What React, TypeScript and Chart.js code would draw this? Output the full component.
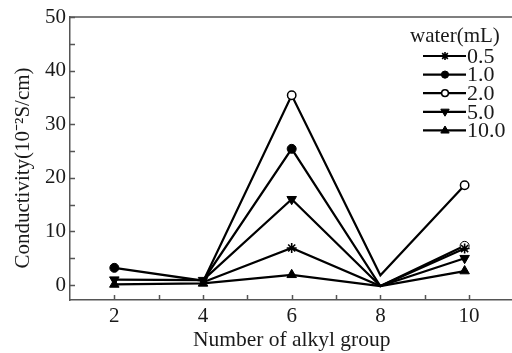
import React, { useEffect, useRef } from "react";
import { Chart, registerables } from "chart.js";
Chart.register(...registerables);

const xPositions = [2, 4, 6, 8, 9.9];
const seriesLabels = ["0.5", "1.0", "2.0", "5.0", "10.0"];
const s05 = [null, 0.5, 6.9, -0.2, 6.8];
const s10 = [3.2, 0.8, 25.4, -0.2, 7.3];
const s20 = [null, 0.6, 35.4, 1.8, 18.6];
const s50 = [1.0, 0.9, 16.0, -0.2, 5.0];
const s100 = [0.1, 0.3, 1.9, -0.2, 2.6];
// which points show a marker in the original (others hidden under overlap)
const markerShown = [
  [false, false, true, false, true],
  [true, false, true, false, true],
  [false, false, true, false, true],
  [true, true, true, false, true],
  [true, true, true, false, true],
];
const xTickLabels = [2, 4, 6, 8, 10];
const yTickLabels = [0, 10, 20, 30, 40, 50];
const xMinor = [2, 3, 4, 5, 6, 7, 8, 9, 10];
const yMinor = [0, 5, 10, 15, 20, 25, 30, 35, 40, 45, 50];
const legendTitle = "water(mL)";
const xTitle = "Number of alkyl group";
const yTitle = "Conductivity(10\u207B\u00B2S/cm)";

const FONT = "'Liberation Serif', 'Times New Roman', serif";
const AXIS = "#555";
const TEXT = "#1a1a1a";

const styles = [
  { pointStyle: "star", radius: 5, fill: "#000", bw: 1.6 },
  { pointStyle: "circle", radius: 4.5, fill: "#000", bw: 1 },
  { pointStyle: "circle", radius: 4.2, fill: "#fff", bw: 1.5 },
  { pointStyle: "triangle", radius: 5.5, rotation: 180, fill: "#000", bw: 1 },
  { pointStyle: "triangle", radius: 5.5, rotation: 0, fill: "#000", bw: 1 },
];

function drawMarker(ctx: CanvasRenderingContext2D, st: any, x: number, y: number, scale: number) {
  ctx.save();
  ctx.translate(x, y);
  ctx.rotate(((st.rotation || 0) * Math.PI) / 180);
  ctx.fillStyle = st.fill;
  ctx.strokeStyle = "#000";
  ctx.lineWidth = st.bw;
  const r = st.radius * scale;
  ctx.beginPath();
  if (st.pointStyle === "circle") {
    ctx.arc(0, 0, r, 0, Math.PI * 2);
    ctx.fill();
    ctx.stroke();
  } else if (st.pointStyle === "triangle") {
    ctx.moveTo(0, -r);
    ctx.lineTo(r * 0.95, r * 0.6);
    ctx.lineTo(-r * 0.95, r * 0.6);
    ctx.closePath();
    ctx.fill();
    ctx.stroke();
  } else {
    for (let i = 0; i < 4; i++) {
      const a = (i * Math.PI) / 4;
      ctx.moveTo(-Math.cos(a) * r, -Math.sin(a) * r);
      ctx.lineTo(Math.cos(a) * r, Math.sin(a) * r);
    }
    ctx.stroke();
  }
  ctx.restore();
}

const decorPlugin = {
  id: "decor",
  afterDraw(chart: any) {
    const { ctx, chartArea, scales } = chart;
    const xs = scales.x;
    const ys = scales.y;
    ctx.save();
    ctx.strokeStyle = AXIS;
    ctx.lineWidth = 1.5;
    ctx.beginPath();
    ctx.moveTo(chartArea.left, chartArea.top);
    ctx.lineTo(chartArea.right, chartArea.top);
    ctx.stroke();
    ctx.beginPath();
    xMinor.forEach((v) => {
      const px = Math.round(xs.getPixelForValue(v)) + 0.5;
      ctx.moveTo(px, chartArea.bottom);
      ctx.lineTo(px, chartArea.bottom - 5);
    });
    yMinor.forEach((v) => {
      const py = Math.round(ys.getPixelForValue(v)) + 0.5;
      ctx.moveTo(chartArea.left, py);
      ctx.lineTo(chartArea.left + 5, py);
    });
    ctx.stroke();

    ctx.fillStyle = TEXT;
    ctx.font = `21px ${FONT}`;
    ctx.textAlign = "center";
    ctx.textBaseline = "middle";
    ctx.save();
    ctx.translate(23, 168);
    ctx.rotate(-Math.PI / 2);
    ctx.fillText(yTitle, 0, 0);
    ctx.restore();

    const lx = chartArea.left + 353;
    const ly = chartArea.top + 19;
    ctx.textAlign = "left";
    ctx.font = `21px ${FONT}`;
    ctx.fillText(legendTitle, lx - 13, ly);
    ctx.font = `22px ${FONT}`;
    seriesLabels.forEach((lab, i) => {
      const y = ly + 20 + i * 18.6;
      ctx.strokeStyle = "#000";
      ctx.lineWidth = 2.2;
      ctx.beginPath();
      ctx.moveTo(lx, y);
      ctx.lineTo(lx + 43, y);
      ctx.stroke();
      drawMarker(ctx, styles[i], lx + 22, y, 0.8);
      ctx.fillStyle = TEXT;
      ctx.fillText(lab, lx + 44, y + 1);
    });
    ctx.restore();
  },
};

export default function App() {
  const ref = useRef<HTMLCanvasElement | null>(null);
  useEffect(() => {
    if (!ref.current) return;
    const all = [s05, s10, s20, s50, s100];
    const datasets = all.map((arr, i) => {
      const st = styles[i];
      const fills = arr.map((_, j) => (i === 1 && j === 4 ? "#fff" : st.fill));
      return {
        label: seriesLabels[i],
        data: arr.map((v, j) => ({ x: xPositions[j], y: v })),
        borderColor: "#000",
        borderWidth: 2.2,
        pointStyle: st.pointStyle,
        pointRadius: markerShown[i].map((s) => (s ? st.radius : 0)),
        pointRotation: st.rotation || 0,
        pointBackgroundColor: fills,
        pointBorderColor: "#000",
        pointBorderWidth: markerShown[i].map((s) => (s ? st.bw : 0)),
        spanGaps: false,
        tension: 0,
      };
    });
    const chart = new Chart(ref.current, {
      type: "line",
      data: { datasets: datasets as any },
      plugins: [decorPlugin],
      options: {
        animation: false,
        responsive: false,
        layout: { padding: { top: 17, right: 3, left: 0, bottom: 0 } },
        plugins: { legend: { display: false }, tooltip: { enabled: false } },
        scales: {
          x: {
            type: "linear",
            min: 1,
            max: 11,
            afterFit: (s: any) => {
              s.height = 53;
            },
            afterBuildTicks: (s: any) => {
              s.ticks = xTickLabels.map((v) => ({ value: v }));
            },
            grid: { display: false, drawTicks: false },
            border: { display: true, color: AXIS, width: 1.5 },
            ticks: { color: TEXT, font: { family: FONT, size: 21 }, padding: 4, maxRotation: 0 },
            title: { display: true, text: xTitle, color: TEXT, font: { family: FONT, size: 21.5 }, padding: 0 },
          },
          y: {
            type: "linear",
            min: -2.8,
            max: 50,
            afterFit: (s: any) => {
              s.width = 70;
            },
            afterBuildTicks: (s: any) => {
              s.ticks = yTickLabels.map((v) => ({ value: v }));
            },
            grid: { display: false, drawTicks: false },
            border: { display: true, color: AXIS, width: 1.5 },
            ticks: { color: TEXT, font: { family: FONT, size: 21 }, padding: 4 },
          },
        },
      } as any,
    });
    return () => chart.destroy();
  }, []);
  return (
    <div style={{ position: "fixed", left: 0, top: 0, width: 520, height: 353, background: "#fff" }}>
      <canvas ref={ref} width={520} height={353} style={{ display: "block" }} />
    </div>
  );
}
